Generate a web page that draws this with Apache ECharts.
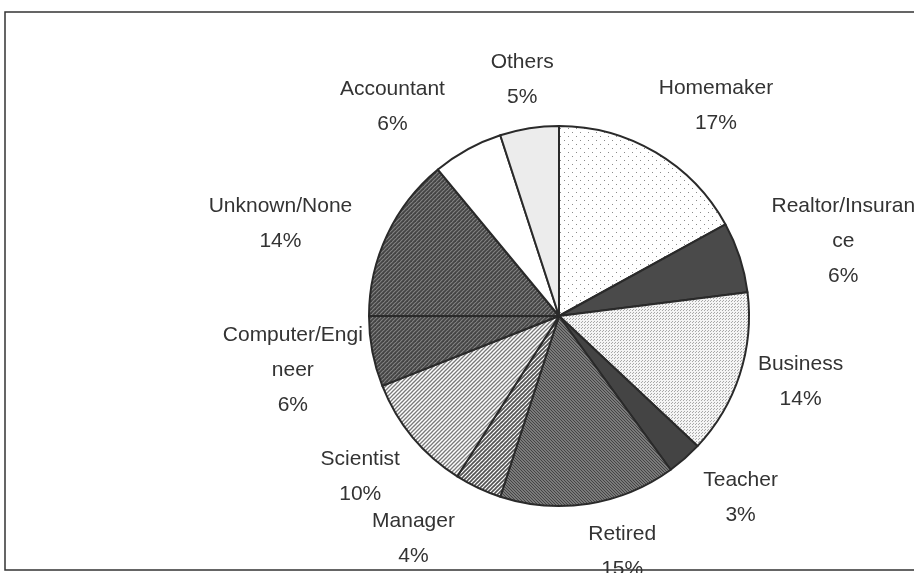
<!DOCTYPE html>
<html>
<head>
<meta charset="utf-8">
<script src="https://cdn.jsdelivr.net/npm/echarts@6/dist/echarts.min.js"></script>
<style>
html, body { margin: 0; background: #fff; }
#main { width: 914px; height: 573px; }
</style>
</head>
<body>
<div id="main"></div>
<script>
// data (percent of respondents)
var categories = ['Homemaker', 'Realtor/Insurance', 'Business', 'Teacher', 'Retired', 'Manager',
    'Scientist', 'Computer/Engineer', 'Unknown/None', 'Accountant', 'Others'];
var shares = [17, 6, 14, 3, 15, 4, 10, 6, 14, 6, 5];
// label text as wrapped in the picture
var labelNames = ['Homemaker', 'Realtor/Insuran\nce', 'Business', 'Teacher', 'Retired', 'Manager',
    'Scientist', 'Computer/Engi\nneer', 'Unknown/None', 'Accountant', 'Others'];

// hand nudges for the labels (px), like the dragged labels of the original
var labelNudge = [[24, -5], [22, 4], [7, -8], [22, 2], [26, 0], [-41, 6],
    [-11, 8], [3, 6], [-29, 9], [-43, 0], [0, 0]];

// small canvas tiles to imitate the grey print patterns
function tile(size, bg, draw) {
    var c = document.createElement('canvas');
    c.width = c.height = size;
    var g = c.getContext('2d');
    g.fillStyle = bg;
    g.fillRect(0, 0, size, size);
    if (draw) draw(g, size);
    return { image: c, repeat: 'repeat' };
}
function dots(size, bg, fg, r, pts) {
    return tile(size, bg, function (g) {
        g.fillStyle = fg;
        pts.forEach(function (p) { g.fillRect(p[0], p[1], r, r); });
    });
}
function stripes(size, bg, fg, w) {
    return tile(size, bg, function (g, s) {
        g.strokeStyle = fg;
        g.lineWidth = w;
        [-s, 0, s].forEach(function (o) {
            g.beginPath();
            g.moveTo(o - 1, s + 1);
            g.lineTo(o + s + 1, -1);
            g.stroke();
        });
    });
}

var fills = [
    dots(8, '#ffffff', '#8a8a8a', 1, [[0, 0], [4, 4]]),          // Homemaker
    '#4a4a4a',                                                   // Realtor
    dots(3, '#f4f4f4', '#a8a8a8', 1, [[0, 0], [2, 1]]),          // Business
    '#444444',                                                   // Teacher
    dots(3, '#7a7a7a', '#444444', 1, [[0, 0], [1, 1], [2, 2]]),   // Retired
    stripes(4, '#ffffff', '#505050', 1.6),                       // Manager
    stripes(4, '#ffffff', '#7a7a7a', 1.3),                       // Scientist
    stripes(4, '#858585', '#444444', 1.8),                       // Computer/Engineer
    stripes(4, '#858585', '#444444', 1.8),                       // Unknown/None
    '#ffffff',                                                   // Accountant
    '#ececec'                                                    // Others
];

var cx = 559, cy = 316, radius = 190, gap = 14;
var total = shares.reduce(function (a, b) { return a + b; }, 0);

var data = categories.map(function (name, i) {
    return { name: name, value: shares[i], itemStyle: { color: fills[i] } };
});

var myChart = echarts.init(document.getElementById('main'));

var option = {
    animation: false,
    backgroundColor: '#fff',
    graphic: [{
        type: 'rect',
        shape: { x: 5, y: 12, width: 940, height: 558 },
        style: { fill: 'none', stroke: '#333', lineWidth: 1.5 },
        silent: true
    }],
    series: [{
        type: 'pie',
        center: [cx, cy],
        radius: radius,
        startAngle: 90,
        clockwise: true,
        avoidLabelOverlap: false,
        emphasis: { disabled: true },
        itemStyle: { borderColor: '#2a2a2a', borderWidth: 2 },
        label: {
            show: true,
            position: 'outside',
            fontFamily: 'Liberation Sans, Arial, sans-serif',
            fontSize: 21,
            lineHeight: 35,
            color: '#333333',
            align: 'center',
            formatter: function (p) {
                return labelNames[p.dataIndex] + '\n' + p.value + '%';
            }
        },
        labelLine: { show: false },
        labelLayout: function (p) {
            var before = 0;
            for (var i = 0; i < p.dataIndex; i++) before += shares[i];
            var mid = (before + shares[p.dataIndex] / 2) / total * Math.PI * 2;
            var s = Math.sin(mid), c = Math.cos(mid);
            var w = p.labelRect.width, h = p.labelRect.height;
            var d = radius + gap;
            var n = labelNudge[p.dataIndex];
            return {
                x: cx + d * s + w / 2 * s + n[0],
                y: cy - d * c - h / 2 * c + n[1],
                align: 'center',
                verticalAlign: 'middle'
            };
        },
        data: data
    }]
};

myChart.setOption(option);
</script>
</body>
</html>
